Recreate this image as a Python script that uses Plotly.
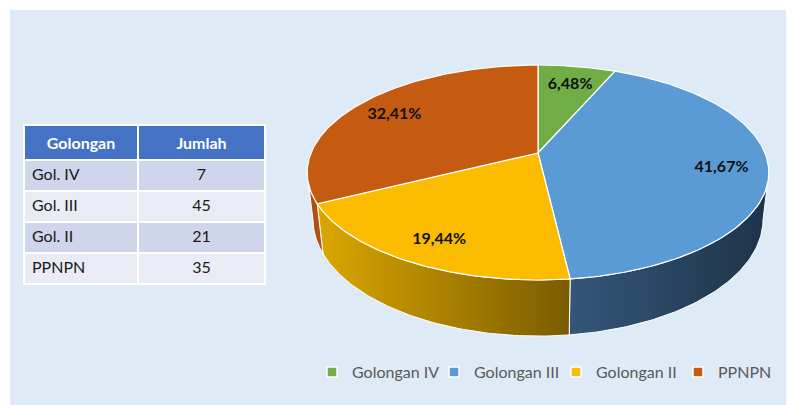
import numpy as np
import plotly.graph_objects as go

# ---------------- data ----------------
categories = ["Gol. IV", "Gol. III", "Gol. II", "PPNPN"]
series_names = ["Golongan IV", "Golongan III", "Golongan II", "PPNPN"]
values = [7, 45, 21, 35]
table_headers = ["Golongan", "Jumlah"]

# ---------------- style ----------------
SW, SH = 794, 405          # screen size
OFF = 8                    # page body margin
W, H = SW - OFF, SH - OFF  # figure size
FONT = "Lato, 'Open Sans', sans-serif"
top_colors = ["#70ad47", "#5b9bd5", "#fbbc00", "#c55a11"]
side_scales = [
    [[0, "#55883a"], [1, "#466f30"]],
    [[0, "#34567a"], [1, "#1e3348"]],
    [[0, "#dba700"], [1, "#7a5b00"]],
    [[0, "#a9500f"], [1, "#b3520f"]],
]
LABEL_R = 0.8
LABEL_DY = 3


def px(xs):  # screen x -> paper
    return (xs - OFF) / W


def py(ys):  # screen y -> paper
    return 1 - (ys - OFF) / H


# pseudo-3D perspective projection of the pie (screen pixel space)
CX, R = 538.0, 227.0
A, B, C = 76.2, 153.0, -0.1814
D, E = 45.9, 0.025


def proj(theta_deg, r=1.0, z=0.0):
    t = np.radians(theta_deg)
    u = r * np.sin(t)
    v = -r * np.cos(t)
    den = 1 + C * v
    x = CX + R * u / (den + E * z)
    y = (A * v + B + D * z) / den
    return x, y


total = float(sum(values))
fracs = [v / total for v in values]
starts = np.concatenate([[0.0], np.cumsum(fracs)[:-1]]) * 360
ends = np.cumsum(fracs) * 360

theta_r = np.degrees(np.arccos(C))
theta_l = 360 - theta_r

fig = go.Figure()

# sides (front, visible part)
for i in range(len(values)):
    a, b = max(starts[i], theta_r), min(ends[i], theta_l)
    if b <= a:
        continue
    th = np.linspace(a, b, 80)
    xt, yt = proj(th)
    xb, yb = proj(th[::-1], z=1.0)
    xs = np.concatenate([xt, xb, xt[:1]])
    ys = np.concatenate([yt, yb, yt[:1]])
    fig.add_trace(go.Scatter(
        x=xs, y=ys, mode="lines", fill="toself",
        fillgradient=dict(type="horizontal", colorscale=side_scales[i]),
        line=dict(color="white", width=1), showlegend=False, hoverinfo="skip"))

# top faces
for i in range(len(values)):
    th = np.linspace(starts[i], ends[i], 120)
    xt, yt = proj(th)
    xs = np.concatenate([[CX], xt, [CX]])
    ys = np.concatenate([[B], yt, [B]])
    fig.add_trace(go.Scatter(
        x=xs, y=ys, mode="lines", fill="toself", fillcolor=top_colors[i],
        line=dict(color="white", width=1.2), showlegend=False,
        hoverinfo="text", text=f"{series_names[i]}: {values[i]}"))

# data labels
mids = (starts + ends) / 2
lx, ly = proj(mids, r=LABEL_R)
labels = [f"{f*100:.2f}%".replace(".", ",") for f in fracs]
fig.add_trace(go.Scatter(
    x=lx, y=ly + LABEL_DY, mode="text", text=[f"<b>{t}</b>" for t in labels],
    textfont=dict(family=FONT, size=16, color="#111111"),
    showlegend=False, hoverinfo="skip"))

# legend entries
for i, name in enumerate(series_names):
    fig.add_trace(go.Scatter(
        x=[None], y=[None], mode="markers", name=name,
        marker=dict(symbol="square", size=10, color=top_colors[i],
                    line=dict(color="white", width=1.5))))

# table
row_fill = ["#cfd5ea", "#e9ebf5", "#cfd5ea", "#e9ebf5"]
fig.add_trace(go.Table(
    domain=dict(x=[px(24), px(265)], y=[py(287), py(125)]),
    columnwidth=[114, 127],
    header=dict(values=[f"<b>{h}</b>" for h in table_headers],
                fill_color="#4472c4", align="center", height=31,
                font=dict(family=FONT, size=16, color="white"),
                line=dict(color="white", width=2)),
    cells=dict(values=[categories, values],
               fill_color=[row_fill, row_fill], align=["left", "center"],
               height=31, font=dict(family=FONT, size=16, color="#1a1a1a"),
               line=dict(color="white", width=2)),
))

fig.update_layout(
    width=W, height=H,
    margin=dict(l=0, r=0, t=0, b=0, autoexpand=False),
    paper_bgcolor="white", plot_bgcolor="rgba(0,0,0,0)",
    xaxis=dict(range=[OFF, SW], visible=False, fixedrange=True, domain=[0, 1]),
    yaxis=dict(range=[SH, OFF], visible=False, fixedrange=True, domain=[0, 1]),
    shapes=[dict(type="rect", xref="paper", yref="paper",
                 x0=px(10), x1=1, y0=0, y1=py(10),
                 fillcolor="#deeaf6", line=dict(width=0), layer="below")],
    showlegend=True,
    legend=dict(orientation="h", x=px(312), y=py(372),
                xanchor="left", yanchor="middle",
                entrywidth=77, entrywidthmode="pixels",
                bgcolor="rgba(0,0,0,0)",
                font=dict(family=FONT, size=16, color="#595959"),
                itemclick=False, itemdoubleclick=False),
    font=dict(family=FONT),
)

fig.write_html("out.html")
